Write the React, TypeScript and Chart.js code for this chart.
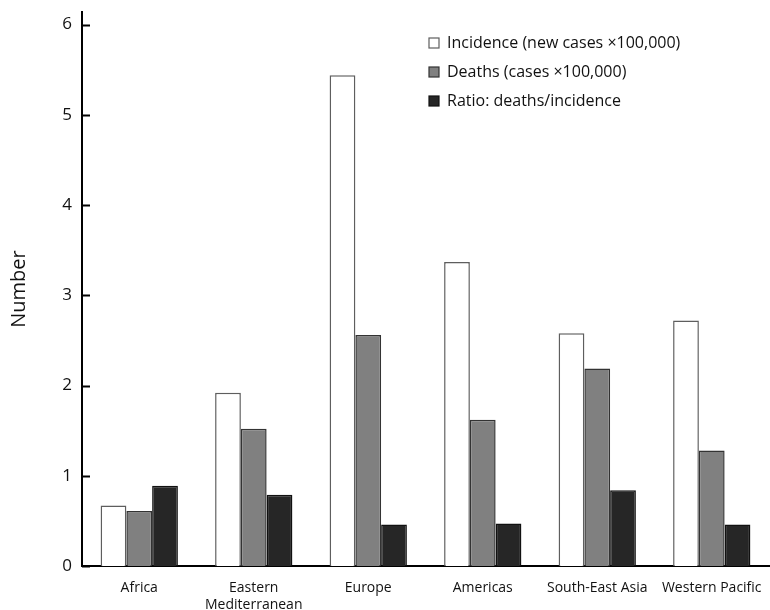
import React, { useEffect, useRef } from "react";
import { Chart, registerables } from "chart.js";

Chart.register(...registerables);

// WHO regions (multi-line labels are arrays)
const regions: (string | string[])[] = [
  "Africa",
  ["Eastern", "Mediterranean"],
  "Europe",
  "Americas",
  "South-East Asia",
  "Western Pacific",
];

const incidence = [0.67, 1.92, 5.44, 3.37, 2.58, 2.72];
const deaths = [0.61, 1.52, 2.56, 1.62, 2.19, 1.28];
const ratio = [0.89, 0.79, 0.46, 0.47, 0.84, 0.46];

const seriesLabels = [
  "Incidence (new cases \u00d7100,000)",
  "Deaths (cases \u00d7100,000)",
  "Ratio: deaths/incidence",
];

const yTicks = [0, 1, 2, 3, 4, 5, 6];
const yAxisTitle = "Number";

const FONT = "'Open Sans', 'Noto Sans', sans-serif";

// Short tick marks drawn inward from the y axis line
const axisMarks = {
  id: "axisMarks",
  afterDraw(chart: any) {
    const { ctx, chartArea, scales } = chart;
    const y = scales.y;
    ctx.save();
    ctx.strokeStyle = "#000";
    ctx.lineWidth = 2;
    yTicks.forEach((v) => {
      const py = Math.round(y.getPixelForValue(v)) + 0.5;
      ctx.beginPath();
      ctx.moveTo(chartArea.left, py);
      ctx.lineTo(chartArea.left + 8, py);
      ctx.stroke();
    });
    ctx.restore();
  },
};

// Legend drawn as a vertical list inside the plot area
const innerLegend = {
  id: "innerLegend",
  afterDraw(chart: any) {
    const { ctx } = chart;
    const x0 = 429;
    const y0 = 43;
    const step = 29;
    ctx.save();
    ctx.font = `16px ${FONT}`;
    ctx.textBaseline = "middle";
    ctx.textAlign = "left";
    chart.data.datasets.forEach((ds: any, i: number) => {
      const cy = y0 + i * step;
      ctx.fillStyle = ds.backgroundColor;
      ctx.strokeStyle = ds.borderColor;
      ctx.lineWidth = 1.2;
      ctx.fillRect(x0, cy - 5, 10, 10);
      ctx.strokeRect(x0, cy - 5, 10, 10);
      ctx.fillStyle = "#111";
      ctx.fillText(ds.label, x0 + 18, cy);
    });
    ctx.restore();
  },
};

export default function App() {
  const canvasRef = useRef<HTMLCanvasElement | null>(null);

  useEffect(() => {
    const canvas = canvasRef.current;
    if (!canvas) return;
    const chart = new Chart(canvas, {
      type: "bar",
      data: {
        labels: regions as any,
        datasets: [
          {
            label: seriesLabels[0],
            data: incidence,
            backgroundColor: "#ffffff",
            borderColor: "#5e5e5e",
            borderWidth: 1.5,
          },
          {
            label: seriesLabels[1],
            data: deaths,
            backgroundColor: "#808080",
            borderColor: "#333333",
            borderWidth: 1.5,
          },
          {
            label: seriesLabels[2],
            data: ratio,
            backgroundColor: "#262626",
            borderColor: "#111111",
            borderWidth: 1.5,
          },
        ],
      },
      options: {
        responsive: false,
        animation: false,
        layout: { padding: { top: 12, left: 0, right: 1, bottom: 0 } },
        datasets: {
          bar: { categoryPercentage: 0.675, barPercentage: 1 },
        },
        plugins: {
          legend: { display: false },
          tooltip: { enabled: false },
        },
        scales: {
          x: {
            grid: { display: false, drawTicks: false },
            border: { display: true, color: "#000", width: 2 },
            ticks: {
              color: "#111",
              font: { family: FONT, size: 14 },
              padding: 14,
              maxRotation: 0,
              autoSkip: false,
            },
            afterFit(scale: any) {
              scale.height = 44;
              scale.paddingLeft = 0;
              scale.paddingRight = 0;
            },
          },
          y: {
            min: 0,
            max: 6.14,
            grid: { display: false, drawTicks: false },
            border: { display: true, color: "#000", width: 2 },
            ticks: {
              stepSize: 1,
              includeBounds: false,
              color: "#111",
              font: { family: FONT, size: 17 },
              padding: 10,
            },
            title: {
              display: true,
              text: yAxisTitle,
              color: "#111",
              font: { family: FONT, size: 20 },
              padding: { top: 7, bottom: 0 },
            },
            afterFit(scale: any) {
              scale.width = 82;
              scale.paddingTop = 0;
              scale.paddingBottom = 0;
            },
          },
        },
      },
      plugins: [axisMarks, innerLegend],
    });
    return () => chart.destroy();
  }, []);

  return (
    <div
      style={{
        position: "fixed",
        left: 0,
        top: 0,
        width: 770,
        height: 610,
        background: "#fff",
      }}
    >
      <canvas ref={canvasRef} width={770} height={610} />
    </div>
  );
}
